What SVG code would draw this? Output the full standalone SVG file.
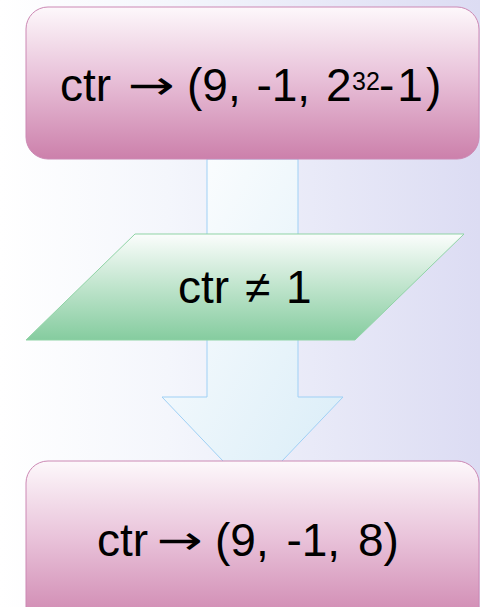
<svg xmlns="http://www.w3.org/2000/svg" width="480" height="607" viewBox="0 0 480 607">
  <defs>
    <linearGradient id="bg" x1="0" y1="0" x2="1" y2="0">
      <stop offset="0" stop-color="#ffffff"/>
      <stop offset="0.35" stop-color="#f4f6fc"/>
      <stop offset="1" stop-color="#dcdcf3"/>
    </linearGradient>
    <linearGradient id="pink" x1="0" y1="0" x2="0" y2="1">
      <stop offset="0" stop-color="#fdf8fb"/>
      <stop offset="0.45" stop-color="#e9c3da"/>
      <stop offset="1" stop-color="#cc80ab"/>
    </linearGradient>
    <linearGradient id="green" x1="0" y1="0" x2="0" y2="1">
      <stop offset="0" stop-color="#fbfdfc"/>
      <stop offset="0.5" stop-color="#bfe4cc"/>
      <stop offset="1" stop-color="#85cc9f"/>
    </linearGradient>
    <linearGradient id="blue" x1="0" y1="0" x2="1" y2="1">
      <stop offset="0" stop-color="#ffffff"/>
      <stop offset="1" stop-color="#d8ecf7"/>
    </linearGradient>
  </defs>
  <style>
    .box { fill: url(#pink); stroke: #cc88b4; stroke-width: 1; }
    .para { fill: url(#green); stroke: #8fd3a5; stroke-width: 1; }
    .arrow { fill: url(#blue); stroke: #9fd0f5; stroke-width: 1; }
    .label { font-family: "Liberation Sans", Arial, sans-serif; font-size: 46px; fill: #000; }
    .sup { font-size: 25px; }
    .maps { font-family: "DejaVu Sans", "Liberation Sans", sans-serif; font-size: 40px; fill: #000; }
  </style>

  <rect width="480" height="607" fill="url(#bg)"/>

  <!-- block arrow running down through the decision -->
  <g id="connectors">
    <path class="arrow" d="M207,159 L298,159 L298,397 L343,397 L252.5,492 L162,397 L207,397 Z"/>
  </g>

  <g id="start">
    <rect class="box" x="26" y="7" width="453" height="152" rx="22" ry="22"/>
    <text class="label" y="101"><tspan x="60">ctr</tspan><tspan x="187" word-spacing="3">(9, -1, 2</tspan><tspan class="sup" x="352" y="90">32</tspan><tspan x="379" y="101" letter-spacing="3">-1)</tspan></text>
    <text class="maps" x="128" y="99" textLength="47" lengthAdjust="spacingAndGlyphs">→</text>
  </g>

  <g id="check">
    <polygon class="para" points="135,234 464,234 355,340 26,340"/>
    <text class="label" x="178" y="303" word-spacing="3">ctr ≠ 1</text>
  </g>

  <g id="result">
    <rect class="box" x="26" y="461" width="453" height="170" rx="22" ry="22"/>
    <text class="label" y="556"><tspan x="97">ctr</tspan><tspan x="215" word-spacing="5">(9, -1, 8)</tspan></text>
    <text class="maps" x="157" y="554" textLength="46" lengthAdjust="spacingAndGlyphs">→</text>
  </g>
</svg>
